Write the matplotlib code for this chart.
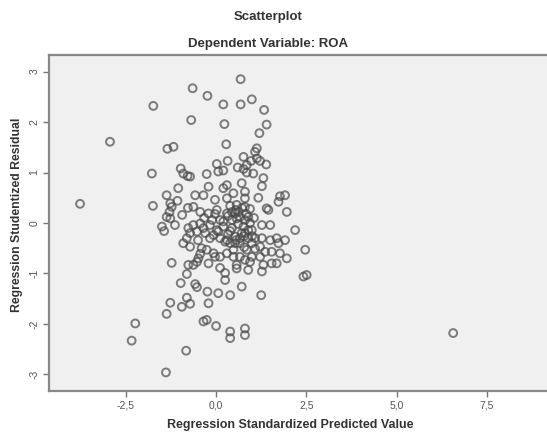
# encoding:utf-8

"""
SPSS style residual scatterplot: studentized residual vs standardized predicted value
"""

import matplotlib
matplotlib.use('Agg')
import matplotlib.pyplot as plt
import numpy as np

# values
pred = [0.68, -0.65, -0.24, 0.99, 0.20, 0.68, -1.74, 1.33, -0.69, 0.23,
        1.40, 1.20, -2.94, 0.28, -1.35, -1.18, 1.13, 1.08, 0.76, 1.13,
        0.32, 0.02, 0.85, 0.97, 1.22, 1.39, 0.60, 0.76, 0.06, 0.20,
        0.85, 1.03, -0.26, -0.98, -0.91, -0.79, -1.78, -0.72, 1.31, 1.27,
        0.71, -0.21, 0.20, 0.30, 0.48, 0.80, 0.80, -0.58, -0.35, 1.17,
        1.77, 1.91, -0.03, 0.30, -1.37, -1.07, -1.27,
        -3.77, -1.75, -1.23, -1.29, -0.63, 1.73, 1.40, 1.96, 0.80, 0.57,
        -0.78, -0.44, -0.21, -0.03, 0.30, 0.66, 0.89, 1.45, 0.02, 0.53,
        -1.37, -1.27, 0.20, 0.57, 0.80, 0.94,
        -1.50, -1.44, -0.77, -0.63, -0.81, -0.44, -0.53, -0.30, -0.17, 0.02,
        0.20, 0.25, -0.35, -0.17, -0.07, 0.06, 0.11, 0.30, 0.39, 0.53,
        0.76, 0.89, 0.71, 0.89, 0.66, 0.80, 0.99, 1.27, 1.50, 1.08,
        1.27, 1.50, 1.68, 1.91, 2.19, 2.47, 0.99, 1.22, 1.73, -0.72,
        -0.91, -0.72, -0.40, -0.26, -0.07, 0.11, 0.30, 0.48, 0.66, 0.85,
        0.99, 1.22, 1.36, 1.54, 1.77, 1.96, 0.48, -0.03, -0.49, -0.44,
        1.08, 0.53, 0.78, 0.39, 0.61, 0.44,
        -1.23, -0.77, -0.63, -0.53, -0.21, 0.80, 0.94, 1.54, 0.57, 1.31,
        1.68, 0.57, 0.89, 1.27, -0.81, 2.42, 2.51, -0.98, -0.58, -0.53,
        0.25, 0.71, -0.24, 0.06, 0.39, 1.25, -0.81, 0.11, 0.25,
        -1.27, -0.95, -0.72, -0.21, -1.37, -2.24, -2.34, -0.35, -0.26, 0.00,
        0.39, 0.39, 0.80, 0.80, -0.83, -1.39, 6.57,
        0.44, 0.66, 0.33, 0.83, -0.11, -0.33, 1.05, 0.55, -0.50, -1.14,
        -0.94, -1.05,
        0.61, 0.72, 0.39, 0.94, 0.78, 0.55, 0.33, 1.00, 0.11, 0.44]

resid = [2.85, 2.67, 2.52, 2.45, 2.35, 2.35, 2.32, 2.24, 2.04, 1.96,
         1.95, 1.78, 1.61, 1.56, 1.47, 1.51, 1.48, 1.41, 1.31, 1.28,
         1.23, 1.17, 1.15, 1.23, 1.23, 1.16, 1.10, 1.07, 1.02, 1.04,
         1.00, 0.98, 0.97, 1.08, 0.98, 0.93, 0.98, 0.92, 0.89, 0.73,
         0.79, 0.72, 0.69, 0.75, 0.59, 0.62, 0.49, 0.55, 0.55, 0.50,
         0.53, 0.55, 0.46, 0.49, 0.55, 0.44, 0.39,
         0.38, 0.34, 0.32, 0.22, 0.32, 0.42, 0.29, 0.22, 0.32, 0.36,
         0.30, 0.22, 0.19, 0.18, 0.19, 0.12, 0.12, 0.26, 0.26, 0.19,
         0.12, 0.09, 0.03, 0.09, 0.06, 0.00,
         -0.07, -0.16, -0.10, -0.04, -0.30, -0.01, -0.17, -0.20, -0.30, -0.14,
         -0.07, -0.37, -0.10, -0.04, -0.24, -0.17, -0.30, -0.34, -0.40, -0.40,
         -0.07, -0.14, -0.20, -0.30, -0.40, -0.20, -0.14, -0.04, -0.04, -0.30,
         -0.30, -0.34, -0.30, -0.34, -0.14, -0.53, -0.40, -0.47, -0.40, -0.20,
         -0.40, -0.47, -0.50, -0.53, -0.60, -0.67, -0.60, -0.67, -0.67, -0.53,
         -0.67, -0.67, -0.57, -0.57, -0.60, -0.70, -0.53, -0.67, -0.70, -0.61,
         -0.51, -0.27, -0.48, -0.16, -0.02, 0.06,
         -0.79, -0.83, -0.83, -0.77, -0.80, -0.73, -0.77, -0.80, -0.83, -0.83,
         -0.80, -0.90, -0.93, -0.96, -1.01, -1.06, -1.03, -1.19, -1.21, -1.27,
         -1.13, -1.26, -1.36, -1.39, -1.43, -1.43, -1.48, -0.89, -0.99,
         -1.58, -1.66, -1.60, -1.59, -1.80, -1.99, -2.33, -1.95, -1.92, -2.04,
         -2.15, -2.28, -2.09, -2.22, -2.53, -2.96, -2.18,
         -0.10, -0.30, 0.14, 0.18, 0.06, 0.10, 0.10, 0.26, -0.34, -0.04,
         0.16, 0.69,
         0.22, 0.30, 0.34, 0.28, -0.26, -0.34, -0.22, -0.26, 0.06, 0.22]

xticks = [-2.5, 0.0, 2.5, 5.0, 7.5]
xtick_labels = ['-2,5', '0,0', '2,5', '5,0', '7,5']
yticks = [3, 2, 1, 0, -1, -2, -3]
ytick_labels = ['3', '2', '1', '0', '-1', '-2', '-3']


def draw():
    plt.rcParams['font.family'] = ['Liberation Sans', 'DejaVu Sans']

    fig = plt.figure(figsize=(5.47, 4.36), dpi=100)
    ax = fig.add_axes([0.0896, 0.103, 0.9104, 0.771])
    ax.set_facecolor('#f0f0f0')

    ax.scatter(pred, resid, s=32, facecolors='none', edgecolors='#4a4a4a',
               linewidths=1.4, alpha=0.7)

    ax.set_xlim(-4.63, 9.17)
    ax.set_ylim(-3.33, 3.33)

    ax.set_xticks(xticks)
    ax.set_xticklabels(xtick_labels, fontsize=7.5, color='#555555')
    ax.set_yticks(yticks)
    ax.set_yticklabels(ytick_labels, fontsize=7.5, color='#555555',
                       rotation=90, va='center')
    ax.tick_params(direction='out', length=4, width=1, color='#777777', pad=3)

    for side in ['left', 'top', 'bottom']:
        ax.spines[side].set_color('#888888')
        ax.spines[side].set_linewidth(1.6)
    ax.spines['right'].set_visible(False)

    fig.text(0.49, 0.962, 'Scatterplot', ha='center', va='center',
             fontsize=9.5, fontweight='bold', color='#333333')
    fig.text(0.49, 0.9, 'Dependent Variable: ROA', ha='center', va='center',
             fontsize=9.5, fontweight='bold', color='#333333')
    fig.text(0.53, 0.025, 'Regression Standardized Predicted Value',
             ha='center', va='center', fontsize=9, fontweight='bold',
             color='#333333')
    fig.text(0.031, 0.507, 'Regression Studentized Residual', ha='center',
             va='center', rotation=90, fontsize=8.8, fontweight='bold',
             color='#333333')

    fig.savefig('out.png', dpi=100, facecolor='white')


if __name__ == '__main__':
    draw()
